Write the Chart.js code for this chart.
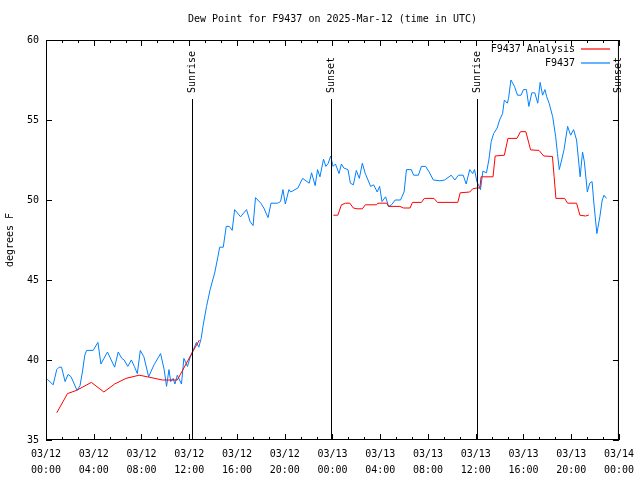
<!DOCTYPE html>
<html>
<head>
<meta charset="UTF-8">
<title>Dew Point F9437</title>
<script src="https://cdn.jsdelivr.net/npm/chart.js"></script>
<style>
  body { margin: 0; background: #fff; }
</style>
</head>
<body>
<canvas id="dewChart" width="640" height="480"></canvas>
<script>
// hours since 03/12 00:00 UTC
const obsHours = [0.1,0.6,0.9,1.1,1.3,1.6,1.85,2.1,2.6,2.85,3.05,3.25,3.4,3.95,4.35,4.6,5.15,5.75,6.05,6.35,
  6.55,6.85,7.15,7.4,7.65,7.9,8.2,8.6,9.05,9.6,9.9,10.1,10.3,10.45,10.65,10.8,11.0,11.35,11.55,11.85,
  12.05,12.35,12.6,12.8,13.0,13.15,13.45,13.75,14.15,14.4,14.55,14.85,15.1,15.35,15.6,15.8,16.3,16.8,17.1,17.35,
  17.55,18.0,18.25,18.6,18.85,19.4,19.65,19.85,20.05,20.35,20.5,21.1,21.5,22.05,22.25,22.55,22.75,22.95,23.25,23.45,
  23.65,23.85,24.05,24.25,24.55,24.75,24.95,25.3,25.5,25.75,26.0,26.25,26.5,26.75,27.2,27.45,27.75,27.95,28.15,28.45,
  28.7,28.95,29.25,29.7,30.0,30.2,30.6,30.8,31.2,31.45,31.8,32.1,32.45,33.0,33.4,33.95,34.25,34.55,34.95,35.2,
  35.5,35.75,35.9,36.1,36.4,36.6,36.9,37.1,37.3,37.5,37.8,38.0,38.25,38.4,38.65,38.75,38.95,39.25,39.5,39.8,
  40.0,40.25,40.45,40.7,40.95,41.2,41.4,41.6,41.8,41.95,42.15,42.45,42.7,42.85,43.0,43.2,43.4,43.7,43.95,44.2,
  44.45,44.75,44.95,45.1,45.35,45.55,45.75,45.9,46.15,46.4,46.6,46.75,46.95];
const obsValues = [38.8,38.45,39.4,39.55,39.55,38.65,39.1,38.95,38.1,38.4,39.25,40.3,40.6,40.6,41.1,39.75,40.5,39.55,40.5,40.1,
  40.0,39.6,40.0,39.6,39.15,40.6,40.2,38.95,39.7,40.4,39.4,38.35,39.4,38.65,38.85,38.5,39.05,38.5,40.1,39.6,
  40.1,40.65,41.1,40.8,41.35,42.1,43.35,44.4,45.5,46.45,47.05,47.05,48.35,48.35,48.1,49.4,48.95,49.4,48.65,48.4,
  50.15,49.8,49.5,48.9,49.8,49.8,49.9,50.65,49.75,50.65,50.5,50.75,51.35,51.05,51.7,50.9,51.9,51.45,52.55,52.1,
  52.3,52.75,52.1,52.25,51.65,52.25,52.0,51.9,51.05,50.95,51.85,51.35,52.3,51.65,50.85,50.95,50.5,50.85,49.9,50.2,
  49.6,49.7,50.0,50.0,50.5,51.9,51.9,51.55,51.55,52.1,52.1,51.75,51.25,51.2,51.25,51.55,51.25,51.55,51.55,51.0,
  51.9,51.65,51.9,51.15,50.65,51.8,51.7,52.5,53.65,54.15,54.5,55.0,55.4,56.25,56.05,56.35,57.5,57.1,56.55,56.55,
  56.9,56.9,55.85,56.7,56.7,56.05,57.35,56.55,56.9,56.45,56.05,55.2,53.95,52.9,51.9,52.5,53.15,54.6,54.05,54.4,
  53.75,51.45,53.0,52.4,50.5,51.05,51.15,49.8,47.9,48.95,50.0,50.3,50.1];

const analysisHours = [0.9,1.8,2.55,3.8,4.85,5.75,6.7,7.8,8.5,9.75,11.0,12.35,12.85,18.0,
  24.07,24.45,24.75,25.1,25.45,25.75,26.05,26.5,26.75,27.7,27.8,28.55,28.7,29.65,29.95,30.5,
  30.7,31.45,31.7,32.5,32.8,34.5,34.7,35.5,35.75,36.1,36.35,36.45,37.45,37.63,38.4,38.7,39.45,39.75,40.2,40.6,
  41.3,41.7,42.43,42.57,42.72,43.45,43.7,44.45,44.73,45.2,45.48];
const analysisValues = [36.7,37.9,38.1,38.6,38.0,38.5,38.85,39.05,38.95,38.75,38.75,40.6,41.25,null,
  49.05,49.05,49.7,49.8,49.8,49.5,49.45,49.45,49.7,49.7,49.8,49.8,49.6,49.6,49.5,49.5,
  49.85,49.85,50.1,50.1,49.85,49.85,50.45,50.5,50.7,50.75,50.75,51.45,51.45,52.75,52.8,53.85,53.85,54.27,54.27,53.13,
  53.1,52.75,52.72,51.45,50.1,50.1,49.8,49.8,49.05,49.0,49.06];

const xTickLabels = [['03/12','00:00'],['03/12','04:00'],['03/12','08:00'],['03/12','12:00'],['03/12','16:00'],
  ['03/12','20:00'],['03/13','00:00'],['03/13','04:00'],['03/13','08:00'],['03/13','12:00'],['03/13','16:00'],
  ['03/13','20:00'],['03/14','00:00']];
const sunEventHours = [12.2, 23.9, 36.1, 47.93];
const sunEventNames = ['Sunrise', 'Sunset', 'Sunrise', 'Sunset'];

const FONT = 'DejaVu Sans Mono';
const RED = '#ff0000';
const BLUE = '#0080ff';

const toPoints = (hs, vs) => hs.map((h, i) => ({ x: h, y: vs[i] }));

// frame, inward ticks, sunrise/sunset markers, legend, titles
const decor = {
  id: 'decor',
  afterDraw(chart) {
    const c = chart.ctx, a = chart.chartArea;
    const xs = chart.scales.x, ys = chart.scales.y;
    c.save();
    c.strokeStyle = '#000';
    c.lineWidth = 1;
    c.beginPath();
    c.rect(a.left + 0.5, a.top + 0.5, a.right - a.left - 1, a.bottom - a.top - 1);
    // x ticks: major every 4h, minor every 80 min
    for (let m = 0; m <= 48 * 60; m += 80) {
      const px = Math.round(xs.getPixelForValue(m / 60)) + 0.5;
      const len = (m % 240 === 0) ? 6 : 3;
      c.moveTo(px, a.bottom); c.lineTo(px, a.bottom - len);
      c.moveTo(px, a.top); c.lineTo(px, a.top + len);
    }
    for (let v = 35; v <= 60; v += 5) {
      const py = Math.round(ys.getPixelForValue(v)) + 0.5;
      c.moveTo(a.left, py); c.lineTo(a.left + 6, py);
      c.moveTo(a.right, py); c.lineTo(a.right - 6, py);
    }
    c.stroke();

    // sunrise / sunset lines
    c.font = '10px ' + FONT;
    c.fillStyle = '#000';
    sunEventHours.forEach((h, i) => {
      const px = Math.round(xs.getPixelForValue(h)) + 0.5;
      c.beginPath();
      c.moveTo(px, 99); c.lineTo(px, a.bottom);
      c.stroke();
      c.save();
      c.translate(px, 93);
      c.rotate(-Math.PI / 2);
      c.textAlign = 'left';
      c.textBaseline = 'middle';
      c.fillText(sunEventNames[i], 0, 0);
      c.restore();
    });

    // legend
    c.textAlign = 'right';
    c.textBaseline = 'middle';
    const legendRows = [
      { text: 'F9437 Analysis', color: RED, y: 49 },
      { text: 'F9437', color: BLUE, y: 63 }
    ];
    legendRows.forEach(row => {
      c.fillStyle = '#000';
      c.fillText(row.text, 575, row.y);
      c.strokeStyle = row.color;
      c.lineWidth = 1.2;
      c.beginPath();
      c.moveTo(581, row.y);
      c.lineTo(610, row.y);
      c.stroke();
    });
    c.lineWidth = 1;

    // title and y label
    c.fillStyle = '#000';
    c.textAlign = 'center';
    c.fillText('Dew Point for F9437 on 2025-Mar-12 (time in UTC)', (a.left + a.right) / 2, 19);
    c.translate(10, 240);
    c.rotate(-Math.PI / 2);
    c.fillText('degrees F', 0, 0);
    c.restore();
  }
};

new Chart(document.getElementById('dewChart'), {
  type: 'line',
  data: {
    datasets: [
      {
        label: 'F9437 Analysis',
        data: toPoints(analysisHours, analysisValues),
        borderColor: RED,
        borderWidth: 1,
        pointRadius: 0,
        spanGaps: false
      },
      {
        label: 'F9437',
        data: toPoints(obsHours, obsValues),
        borderColor: BLUE,
        borderWidth: 1,
        pointRadius: 0
      }
    ]
  },
  options: {
    responsive: false,
    animation: false,
    devicePixelRatio: 1,
    layout: { padding: { left: 0, top: 40, right: 18, bottom: 0 } },
    plugins: { legend: { display: false }, tooltip: { enabled: false } },
    scales: {
      x: {
        type: 'linear',
        min: 0,
        max: 48,
        grid: { display: false, drawTicks: false },
        border: { display: false },
        afterFit: s => { s.height = 40; },
        ticks: {
          stepSize: 4,
          autoSkip: false,
          maxRotation: 0,
          padding: 6,
          color: '#000',
          font: { family: FONT, size: 10, lineHeight: 1.6 },
          callback: v => xTickLabels[v / 4]
        }
      },
      y: {
        min: 35,
        max: 60,
        grid: { display: false, drawTicks: false },
        border: { display: false },
        afterFit: s => { s.width = 46; },
        ticks: {
          stepSize: 5,
          padding: 7,
          color: '#000',
          font: { family: FONT, size: 10 }
        }
      }
    }
  },
  plugins: [decor]
});
</script>
</body>
</html>
